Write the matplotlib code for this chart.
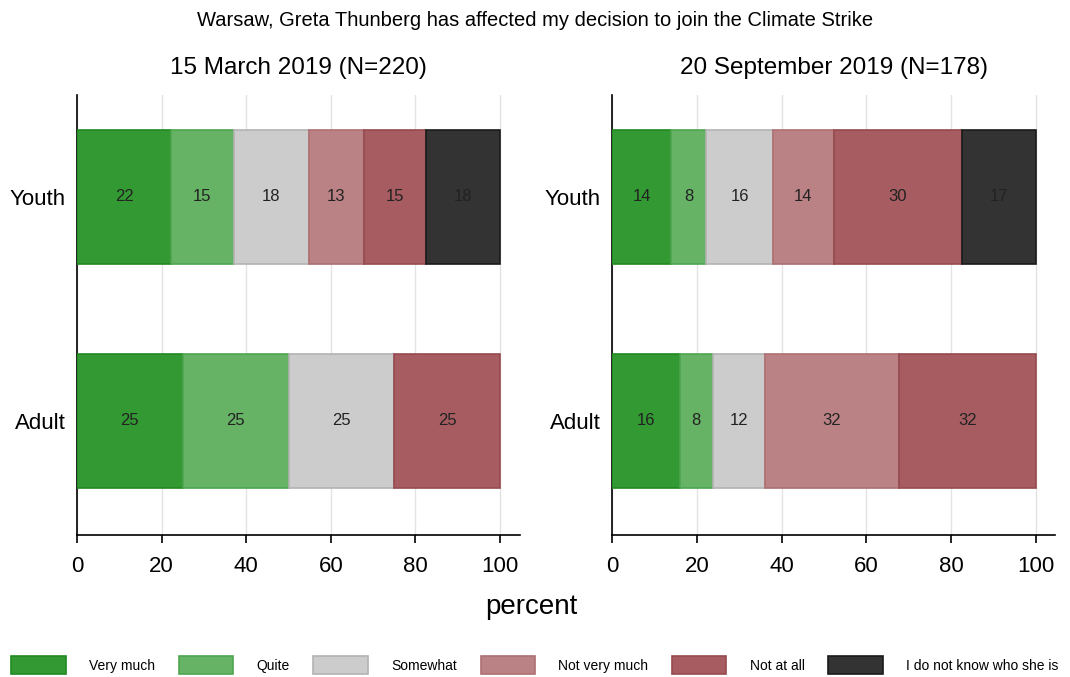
import matplotlib.pyplot as plt
import numpy as np

plt.rcParams['font.family'] = ['Liberation Sans', 'DejaVu Sans']

# categories and data
groups = ['Adult', 'Youth']
answers = ['Very much', 'Quite', 'Somewhat', 'Not very much', 'Not at all',
           'I do not know who she is']
colors = ['#339933', '#66b366', '#cccccc', '#bb8285', '#a65c60', '#333333']
edges = ['#1f8a1f', '#4fa64f', '#b3b3b3', '#ad6f72', '#944a4e', '#1a1a1a']

# percent per answer, rows = groups (Adult, Youth)
march = np.array([
    [25.0, 25.0, 25.0, 0.0, 25.0, 0.0],
    [22.3, 14.7, 17.8, 13.0, 14.6, 17.6],
])
september = np.array([
    [16.0, 7.8, 12.3, 31.6, 32.3, 0.0],
    [14.0, 8.2, 15.8, 14.3, 30.3, 17.4],
])
titles = ['15 March 2019 (N=220)', '20 September 2019 (N=178)']

fig = plt.figure(figsize=(10.7, 6.77), dpi=100)
W, H = 1070, 677
ax1 = fig.add_axes([77 / W, 1 - 535 / H, (520 - 77) / W, (535 - 95) / H])
ax2 = fig.add_axes([612 / W, 1 - 535 / H, (1055 - 612) / W, (535 - 95) / H])

ypos = np.arange(len(groups))
for ax, data, title, xmax in [(ax1, march, titles[0], 104.7),
                              (ax2, september, titles[1], 104.5)]:
    left = np.zeros(len(groups))
    for j in range(len(answers)):
        vals = data[:, j]
        for i in range(len(groups)):
            if vals[i] > 0:
                ax.barh(ypos[i], vals[i], left=left[i], height=0.6,
                        color=colors[j], edgecolor=edges[j], linewidth=1.2,
                        zorder=3)
                ax.text(left[i] + vals[i] / 2, ypos[i], f'{round(vals[i]):d}',
                        ha='center', va='center', fontsize=12, color='#222222',
                        zorder=4)
        left += vals
    ax.set_xlim(0, xmax)
    ax.set_ylim(-0.509, 1.455)
    ax.set_xticks([0, 20, 40, 60, 80, 100])
    ax.set_yticks(ypos)
    ax.set_yticklabels(groups, fontsize=16)
    ax.tick_params(axis='x', labelsize=16, length=6, width=1.2, pad=9)
    ax.tick_params(axis='y', length=0, pad=8)
    ax.grid(axis='x', color='#e3e3e3', linewidth=1, zorder=0)
    ax.spines['top'].set_visible(False)
    ax.spines['right'].set_visible(False)
    ax.spines['left'].set_linewidth(1.2)
    ax.spines['bottom'].set_linewidth(1.2)
    ax.set_title(title, fontsize=17.5, pad=15)

fig.text(0.5, 1 - 20 / H, 'Warsaw, Greta Thunberg has affected my decision to join the Climate Strike',
         ha='center', va='center', fontsize=14.5)
fig.text(0.497, 1 - 607 / H, 'percent', ha='center', va='center', fontsize=20)

handles = [plt.Rectangle((0, 0), 1, 1, facecolor=c, edgecolor=e, linewidth=1.2)
           for c, e in zip(colors, edges)]
fig.legend(handles, answers, loc='center', bbox_to_anchor=(0.5, 1 - 665 / H),
           ncol=6, frameon=False, fontsize=10, handlelength=3.9,
           handleheight=1.7, columnspacing=1.7, handletextpad=1.7)

fig.savefig('out.png', dpi=100)
